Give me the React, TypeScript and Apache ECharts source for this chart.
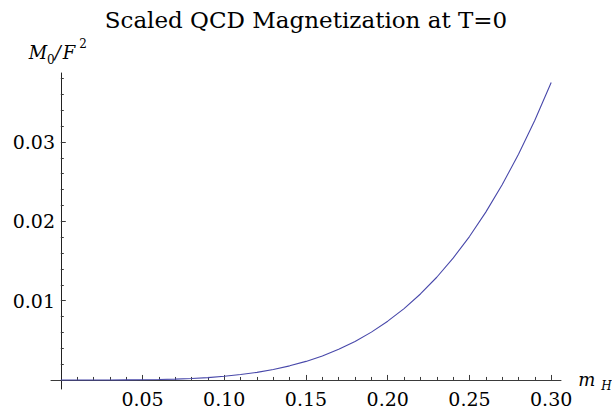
import React, { useEffect, useRef } from 'react';
import * as echarts from 'echarts';

// m_H values (x) and scaled magnetization M0/F^2 (y)
const M_H = [
  0.0, 0.01, 0.02, 0.03, 0.04, 0.05, 0.06, 0.07, 0.08, 0.09, 0.1,
  0.11, 0.12, 0.13, 0.14, 0.15, 0.16, 0.17, 0.18, 0.19, 0.2,
  0.21, 0.22, 0.23, 0.24, 0.25, 0.26, 0.27, 0.28, 0.29, 0.3,
];
const M0_OVER_F2 = [
  0.0, 0.0, 0.0, 0.000003, 0.000011, 0.000028, 0.00006, 0.00011, 0.00019, 0.0003, 0.00046,
  0.00068, 0.00096, 0.00132, 0.00178, 0.00234, 0.00303, 0.00387, 0.00486, 0.00603, 0.00741,
  0.009, 0.01084, 0.01295, 0.01536, 0.01808, 0.02116, 0.0246, 0.02845, 0.03274, 0.0375,
];

// Tick values
const X_MAJOR_TICKS = [0.05, 0.1, 0.15, 0.2, 0.25, 0.3];
const X_MINOR_TICKS = [
  0.01, 0.02, 0.03, 0.04, 0.06, 0.07, 0.08, 0.09, 0.11, 0.12, 0.13, 0.14,
  0.16, 0.17, 0.18, 0.19, 0.21, 0.22, 0.23, 0.24, 0.26, 0.27, 0.28, 0.29,
];
const Y_MAJOR_TICKS = [0.01, 0.02, 0.03];
const Y_MINOR_TICKS = [
  0.002, 0.004, 0.006, 0.008, 0.012, 0.014, 0.016, 0.018,
  0.022, 0.024, 0.026, 0.028, 0.032, 0.034, 0.036, 0.038,
];

const X_RANGE = [-0.006, 0.306];
const Y_RANGE = [-0.00114, 0.0387];

const TITLE = 'Scaled QCD Magnetization at T=0';

export default function App() {
  const ref = useRef<HTMLDivElement>(null);

  useEffect(() => {
    if (!ref.current) return;
    const chart = echarts.init(ref.current, null, { renderer: 'svg' });
    const font = 'DejaVu Serif';
    const axisColor = '#3a3a3a';
    const tickStyle = { color: axisColor, width: 1 };

    const xBase = {
      type: 'value',
      min: X_RANGE[0],
      max: X_RANGE[1],
      position: 'bottom',
      splitLine: { show: false },
      minorTick: { show: false },
    };
    const yBase = {
      type: 'value',
      min: Y_RANGE[0],
      max: Y_RANGE[1],
      position: 'left',
      splitLine: { show: false },
      minorTick: { show: false },
    };

    chart.setOption({
      animation: false,
      backgroundColor: '#ffffff',
      textStyle: { fontFamily: font },
      title: {
        text: TITLE,
        left: 'center',
        top: 8,
        padding: 0,
        textStyle: {
          fontFamily: font,
          fontSize: 23,
          fontWeight: 'normal',
          color: '#000',
        },
      },
      grid: {
        left: 51,
        right: 51,
        top: 73,
        bottom: 19,
        containLabel: false,
        outerBoundsMode: 'none',
      },
      xAxis: [
        {
          ...xBase,
          axisLine: { show: true, onZero: true, onZeroAxisIndex: 0, lineStyle: { color: axisColor, width: 1 } },
          axisTick: { show: true, inside: true, length: 5, customValues: X_MAJOR_TICKS, lineStyle: tickStyle },
          axisLabel: {
            show: true,
            customValues: X_MAJOR_TICKS,
            formatter: (v: number) => v.toFixed(2),
            margin: 0,
            fontFamily: font,
            fontSize: 19,
            color: '#000',
          },
          name: '{m|m}{h|H}',
          nameLocation: 'end',
          nameGap: 14,
          nameTextStyle: {
            rich: {
              m: { fontFamily: font, fontStyle: 'italic', fontSize: 18, color: '#000', lineHeight: 24 },
              h: {
                fontFamily: font,
                fontStyle: 'italic',
                fontSize: 12,
                color: '#000',
                verticalAlign: 'bottom',
                padding: [0, 0, 0, 6],
              },
            },
          },
        },
        {
          ...xBase,
          axisLine: { show: false, onZero: true, onZeroAxisIndex: 0 },
          axisTick: { show: true, inside: true, length: 3, customValues: X_MINOR_TICKS, lineStyle: tickStyle },
          axisLabel: { show: false },
        },
      ],
      yAxis: [
        {
          ...yBase,
          axisLine: { show: true, onZero: true, onZeroAxisIndex: 0, lineStyle: { color: '#222', width: 1 } },
          axisTick: { show: true, inside: true, length: 5, customValues: Y_MAJOR_TICKS, lineStyle: tickStyle },
          axisLabel: {
            show: true,
            customValues: Y_MAJOR_TICKS,
            formatter: (v: number) => v.toFixed(2),
            margin: -4,
            fontFamily: font,
            fontSize: 19,
            color: '#000',
          },
          name: '{m|M}{s|0}{m|/}{f|F}{p|2}',
          nameLocation: 'end',
          nameGap: 7,
          nameTextStyle: {
            padding: [0, 6, 0, 0],
            rich: {
              m: { fontFamily: font, fontStyle: 'italic', fontSize: 18, color: '#000', lineHeight: 28 },
              f: { fontFamily: font, fontStyle: 'italic', fontSize: 18, color: '#000', lineHeight: 28, padding: [0, 0, 0, 2] },
              s: { fontFamily: font, fontSize: 12, color: '#000', verticalAlign: 'bottom' },
              p: { fontFamily: font, fontSize: 12, color: '#000', verticalAlign: 'top', padding: [0, 0, 0, 4] },
            },
          },
        },
        {
          ...yBase,
          axisLine: { show: false, onZero: true, onZeroAxisIndex: 0 },
          axisTick: { show: true, inside: true, length: 3, customValues: Y_MINOR_TICKS, lineStyle: tickStyle },
          axisLabel: { show: false },
        },
      ],
      series: [
        {
          type: 'line',
          xAxisIndex: 0,
          yAxisIndex: 0,
          data: M_H.map((x, i) => [x, M0_OVER_F2[i]]),
          showSymbol: false,
          symbol: 'none',
          smooth: false,
          clip: true,
          lineStyle: { color: '#4848aa', width: 1.1 },
        },
      ],
    });

    return () => chart.dispose();
  }, []);

  return (
    <div
      ref={ref}
      style={{ position: 'absolute', left: 0, top: 0, width: 612, height: 408 }}
    />
  );
}
